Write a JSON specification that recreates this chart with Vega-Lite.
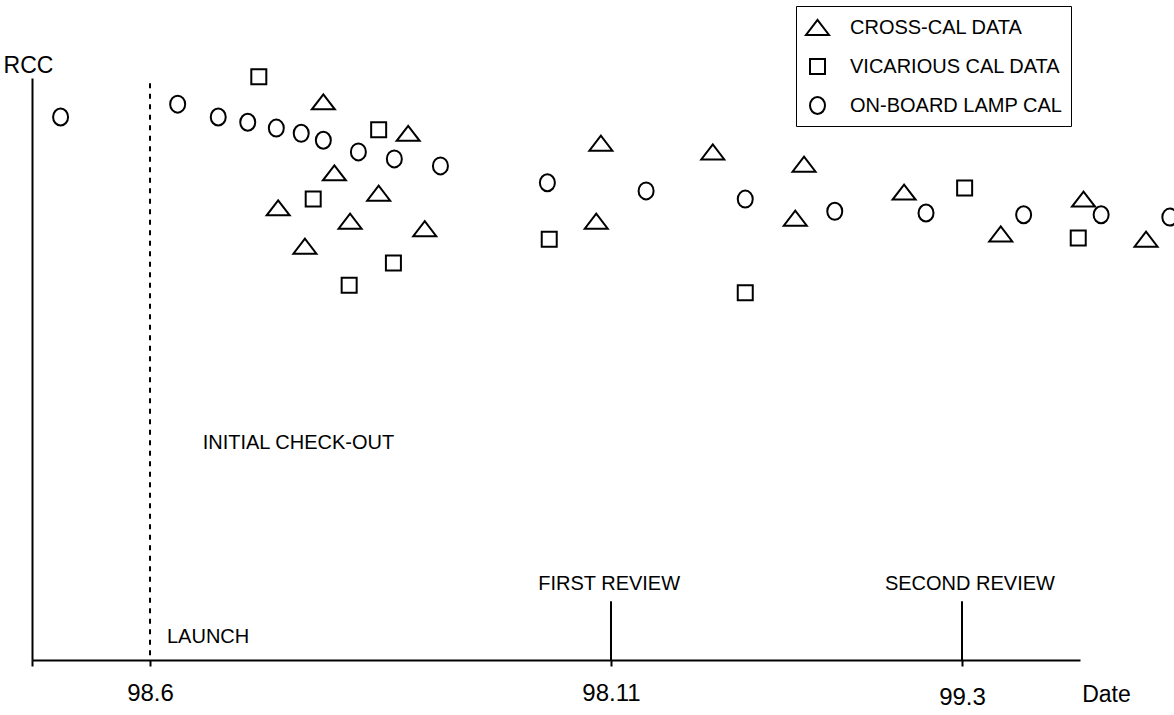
{
  "$schema": "https://vega.github.io/schema/vega-lite/v6.json",
  "width": 1048,
  "height": 582,
  "autosize": {"type": "none"},
  "padding": {"left": 32, "top": 78, "right": 94, "bottom": 55},
  "background": "white",
  "config": {
    "view": {"stroke": null},
    "font": "Liberation Sans",
    "axis": {
      "grid": false,
      "domainColor": "black",
      "domainWidth": 2,
      "tickColor": "black",
      "tickWidth": 2,
      "labelColor": "black",
      "titleColor": "black",
      "labelFont": "Liberation Sans",
      "titleFont": "Liberation Sans",
      "titleFontWeight": "normal"
    }
  },
  "datasets": {
    "points": [
      {"series": "ON-BOARD LAMP CAL", "month": 5.03, "rcc": 93.3},
      {"series": "ON-BOARD LAMP CAL", "month": 6.30, "rcc": 95.5},
      {"series": "ON-BOARD LAMP CAL", "month": 6.74, "rcc": 93.3},
      {"series": "ON-BOARD LAMP CAL", "month": 7.06, "rcc": 92.4},
      {"series": "ON-BOARD LAMP CAL", "month": 7.37, "rcc": 91.4},
      {"series": "ON-BOARD LAMP CAL", "month": 7.64, "rcc": 90.5},
      {"series": "ON-BOARD LAMP CAL", "month": 7.88, "rcc": 89.3},
      {"series": "ON-BOARD LAMP CAL", "month": 8.26, "rcc": 87.3},
      {"series": "ON-BOARD LAMP CAL", "month": 8.65, "rcc": 86.1},
      {"series": "ON-BOARD LAMP CAL", "month": 9.15, "rcc": 84.9},
      {"series": "ON-BOARD LAMP CAL", "month": 10.31, "rcc": 82.0},
      {"series": "ON-BOARD LAMP CAL", "month": 11.40, "rcc": 80.6},
      {"series": "ON-BOARD LAMP CAL", "month": 12.53, "rcc": 79.2},
      {"series": "ON-BOARD LAMP CAL", "month": 13.55, "rcc": 77.1},
      {"series": "ON-BOARD LAMP CAL", "month": 14.59, "rcc": 76.8},
      {"series": "ON-BOARD LAMP CAL", "month": 15.70, "rcc": 76.5},
      {"series": "ON-BOARD LAMP CAL", "month": 16.58, "rcc": 76.5},
      {"series": "ON-BOARD LAMP CAL", "month": 17.36, "rcc": 76.1},
      {"series": "VICARIOUS CAL DATA", "month": 7.18, "rcc": 100.2},
      {"series": "VICARIOUS CAL DATA", "month": 8.48, "rcc": 91.1},
      {"series": "VICARIOUS CAL DATA", "month": 7.77, "rcc": 79.2},
      {"series": "VICARIOUS CAL DATA", "month": 8.64, "rcc": 68.2},
      {"series": "VICARIOUS CAL DATA", "month": 8.16, "rcc": 64.4},
      {"series": "VICARIOUS CAL DATA", "month": 10.33, "rcc": 72.3},
      {"series": "VICARIOUS CAL DATA", "month": 12.53, "rcc": 63.1},
      {"series": "VICARIOUS CAL DATA", "month": 15.03, "rcc": 81.1},
      {"series": "VICARIOUS CAL DATA", "month": 16.32, "rcc": 72.5},
      {"series": "CROSS-CAL DATA", "month": 7.88, "rcc": 95.9},
      {"series": "CROSS-CAL DATA", "month": 8.80, "rcc": 90.5},
      {"series": "CROSS-CAL DATA", "month": 8.00, "rcc": 83.7},
      {"series": "CROSS-CAL DATA", "month": 8.48, "rcc": 80.2},
      {"series": "CROSS-CAL DATA", "month": 7.39, "rcc": 77.7},
      {"series": "CROSS-CAL DATA", "month": 8.17, "rcc": 75.4},
      {"series": "CROSS-CAL DATA", "month": 7.68, "rcc": 71.1},
      {"series": "CROSS-CAL DATA", "month": 8.98, "rcc": 74.1},
      {"series": "CROSS-CAL DATA", "month": 10.89, "rcc": 88.8},
      {"series": "CROSS-CAL DATA", "month": 10.84, "rcc": 75.4},
      {"series": "CROSS-CAL DATA", "month": 12.16, "rcc": 87.3},
      {"series": "CROSS-CAL DATA", "month": 13.20, "rcc": 85.2},
      {"series": "CROSS-CAL DATA", "month": 13.10, "rcc": 75.9},
      {"series": "CROSS-CAL DATA", "month": 14.34, "rcc": 80.4},
      {"series": "CROSS-CAL DATA", "month": 15.44, "rcc": 73.2},
      {"series": "CROSS-CAL DATA", "month": 16.38, "rcc": 79.2},
      {"series": "CROSS-CAL DATA", "month": 17.09, "rcc": 72.3}
    ],
    "launch": [{"month": 6, "rcc": 99.1, "rcc2": 0}],
    "reviews": [
      {"month": 11, "rcc": 10.1, "rcc2": 0},
      {"month": 15, "rcc": 10.1, "rcc2": 0}
    ],
    "notes": [
      {"label": "LAUNCH", "month": 6.63, "rcc": 2.9},
      {"label": "INITIAL CHECK-OUT", "month": 7.61, "rcc": 36.2},
      {"label": "FIRST REVIEW", "month": 10.98, "rcc": 12.0},
      {"label": "SECOND REVIEW", "month": 15.09, "rcc": 12.0}
    ]
  },
  "encoding": {
    "x": {
      "field": "month",
      "type": "quantitative",
      "scale": {"domain": [4.72, 11, 15, 16.34], "range": [0, 579, 930, 1048], "nice": false, "zero": false},
      "axis": {
        "values": [4.72, 6, 11, 15],
        "labelExpr": "datum.value == 6 ? '98.6' : datum.value == 11 ? '98.11' : datum.value == 15 ? '99.3' : ''",
        "tickSize": 6,
        "labelPadding": {"condition": {"test": "datum.value == 15", "value": 19}, "value": 15},
        "labelFontSize": 24,
        "labelFlush": false,
        "labelOverlap": false,
        "title": "Date",
        "titleFontSize": 23,
        "titleX": 1074,
        "titleY": 41,
        "titleAlign": "center",
        "titleBaseline": "alphabetic"
      }
    },
    "y": {
      "field": "rcc",
      "type": "quantitative",
      "scale": {"domain": [0, 100], "nice": false, "zero": false},
      "axis": {
        "ticks": false,
        "labels": false,
        "title": "RCC",
        "titleAngle": 0,
        "titleX": -4,
        "titleY": -6,
        "titleAlign": "center",
        "titleBaseline": "alphabetic",
        "titleFontSize": 23
      }
    }
  },
  "layer": [
    {
      "data": {"name": "launch"},
      "mark": {"type": "rule", "color": "black", "strokeWidth": 2, "strokeDash": [5, 5.5]},
      "encoding": {"y2": {"field": "rcc2"}}
    },
    {
      "data": {"name": "reviews"},
      "mark": {"type": "rule", "color": "black", "strokeWidth": 2},
      "encoding": {"y2": {"field": "rcc2"}}
    },
    {
      "data": {"name": "notes"},
      "mark": {"type": "text", "font": "Liberation Sans", "fontSize": 20, "align": "center", "baseline": "alphabetic", "color": "black"},
      "encoding": {"text": {"field": "label"}}
    },
    {
      "data": {"name": "points"},
      "mark": {"type": "point", "filled": false, "color": "black", "strokeWidth": 2, "size": 625, "opacity": 1, "strokeJoin": "miter"},
      "encoding": {
        "shape": {
          "field": "series",
          "type": "nominal",
          "scale": {
            "domain": ["CROSS-CAL DATA", "VICARIOUS CAL DATA", "ON-BOARD LAMP CAL"],
            "range": [
              "M-0.92,0.6L0.92,0.6L0,-0.6Z",
              "M-0.6,-0.6L0.6,-0.6L0.6,0.6L-0.6,0.6Z",
              "M-0.6,0A0.6,0.68,0,1,1,0.6,0A0.6,0.68,0,1,1,-0.6,0Z"
            ]
          },
          "legend": {
            "title": null,
            "orient": "none",
            "legendX": 764,
            "legendY": -72,
            "strokeColor": "black",
            "fillColor": "white",
            "padding": 8,
            "labelFont": "Liberation Sans",
            "labelFontSize": 20,
            "labelColor": "black",
            "labelOffset": 19,
            "labelLimit": 400,
            "rowPadding": 14,
            "symbolSize": 625,
            "symbolStrokeColor": "black",
            "symbolStrokeWidth": 2,
            "symbolFillColor": "transparent",
            "symbolOpacity": 1
          }
        }
      }
    }
  ]
}
